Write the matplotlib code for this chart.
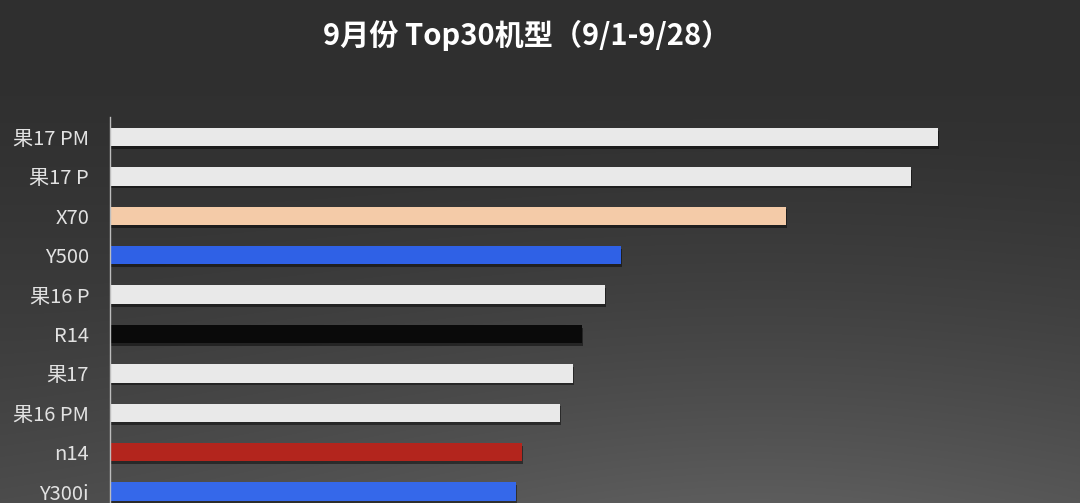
import numpy as np
import matplotlib
matplotlib.use("Agg")
from matplotlib import pyplot as plt
from matplotlib import patheffects as pe

plt.rcParams['font.family'] = ['Noto Sans CJK SC', 'DejaVu Sans']

models = ['果17 PM', '果17 P', 'X70', 'Y500', '果16 P', 'R14', '果17', '果16 PM', 'n14', 'Y300i']
sales = [828, 801, 676, 511, 495, 472, 463, 450, 412, 406]
colors = ['#e9e9e9', '#e9e9e9', '#f4cba8', '#2f61e6', '#e9e9e9',
          '#0a0a0a', '#e9e9e9', '#e9e9e9', '#b3251d', '#3568ea']
title = '9月份 Top30机型（9/1-9/28）'

fig = plt.figure(figsize=(10.8, 5.03), dpi=100)

# background: dark at top, lighter toward the bottom (a bit more on the right)
bg = fig.add_axes([0, 0, 1, 1])
h, w = 503, 1080
yy, xx = np.mgrid[0:h, 0:w]
v = np.clip((yy - 60) / (h - 60), 0, 1)
d = np.sqrt(((xx - 760) / 900.0) ** 2 + ((yy - 620) / 520.0) ** 2)
r = np.clip(1 - d, 0, 1)
g = 0.185 + 0.11 * v ** 1.4 + 0.10 * r ** 1.5
img = np.dstack([g, g, g])
bg.imshow(img, aspect='auto', extent=[0, 1, 0, 1], origin='upper')
bg.set_axis_off()

ax = fig.add_axes([110 / 1080, 0, 970 / 1080, (503 - 117) / 503])
ax.patch.set_alpha(0)
pos = np.arange(len(models))
bars = ax.barh(pos, sales, height=0.47, color=colors)
for b in bars:
    b.set_path_effects([pe.SimplePatchShadow(offset=(1, -2), shadow_rgbFace='black', alpha=0.45),
                        pe.Normal()])

ax.set_xlim(0, 970)
ax.set_ylim((503 - 137) / 39.4, -20 / 39.4)
ax.set_yticks(pos)
ax.set_yticklabels(models, fontsize=14.5, color='#e2e2e2')
ax.tick_params(axis='y', length=0, pad=15)
ax.set_xticks([])
for s in ['top', 'right', 'bottom']:
    ax.spines[s].set_visible(False)
ax.spines['left'].set_color('#bdbdbd')
ax.spines['left'].set_linewidth(1.0)

fig.text(527 / 1080, 1 - 35 / 503, title, ha='center', va='center',
         fontsize=21, fontweight='bold', color='white')

fig.savefig('out.png', dpi=100)
